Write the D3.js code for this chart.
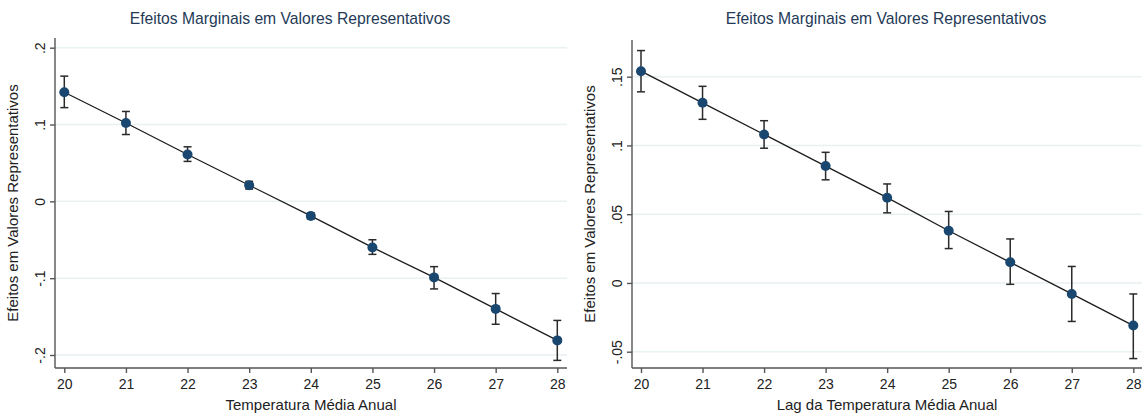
<!DOCTYPE html>
<html>
<head>
<meta charset="utf-8">
<title>Efeitos Marginais</title>
<style>
  body { margin: 0; background: #fff; }
  svg { display: block; font-family: "Liberation Sans", Arial, sans-serif; }
  .grid line { stroke: #e9f1f2; stroke-width: 1.5; }
  .axis path, .axis line { stroke: #555; stroke-width: 1.4; }
  .axis text { fill: #222; font-size: 14px; }
  .title { fill: #243a57; font-size: 15.7px; }
  .label { fill: #222; font-size: 15px; }
</style>
</head>
<body>
<svg width="1142" height="417"></svg>
<script src="https://cdnjs.cloudflare.com/ajax/libs/d3/7.8.5/d3.min.js"></script>
<script>
const titleText = 'Efeitos Marginais em Valores Representativos';
const yTitle = 'Efeitos em Valores Representativos';

const temps = [20, 21, 22, 23, 24, 25, 26, 27, 28];

// left panel: Temperatura Média Anual
const est1 = [0.142, 0.102, 0.061, 0.021, -0.019, -0.060, -0.099, -0.140, -0.181];
const lo1  = [0.122, 0.087, 0.052, 0.016, -0.023, -0.069, -0.114, -0.160, -0.207];
const hi1  = [0.163, 0.117, 0.071, 0.026, -0.015, -0.050, -0.085, -0.120, -0.155];
const yTicks1 = [-0.2, -0.1, 0, 0.1, 0.2];
const yLabels1 = ['-.2', '-.1', '0', '.1', '.2'];

// right panel: Lag da Temperatura Média Anual
const est2 = [0.154, 0.131, 0.108, 0.085, 0.062, 0.038, 0.015, -0.008, -0.031];
const lo2  = [0.139, 0.119, 0.098, 0.075, 0.051, 0.025, -0.001, -0.028, -0.055];
const hi2  = [0.169, 0.143, 0.118, 0.095, 0.072, 0.052, 0.032, 0.012, -0.008];
const yTicks2 = [-0.05, 0, 0.05, 0.1, 0.15];
const yLabels2 = ['-.05', '0', '.05', '.1', '.15'];

const svg = d3.select('svg');

function panel(opt) {
  const g = svg.append('g');
  const x = d3.scaleLinear().domain([20, 28]).range(opt.xr);
  const y = d3.scaleLinear().domain(opt.yd).range(opt.yr);
  const bottom = 368, top = opt.top;

  // grid
  g.append('g').attr('class', 'grid')
    .selectAll('line').data(opt.yTicks).join('line')
    .attr('x1', opt.left).attr('x2', opt.right)
    .attr('y1', d => y(d)).attr('y2', d => y(d));

  // y axis
  const ya = g.append('g').attr('class', 'axis')
    .attr('transform', `translate(${opt.left},0)`)
    .call(d3.axisLeft(y).tickValues(opt.yTicks).tickSize(5)
      .tickFormat((d, i) => opt.yLabels[i]));
  ya.select('.domain').attr('d', `M0,${top}V${bottom}`);
  ya.selectAll('text')
    .attr('transform', 'translate(-15,0) rotate(-90)')
    .attr('x', 0).attr('y', 0).attr('dy', '0.35em')
    .attr('text-anchor', 'middle');

  // x axis
  const xa = g.append('g').attr('class', 'axis')
    .attr('transform', `translate(0,${bottom})`)
    .call(d3.axisBottom(x).tickValues(temps).tickSize(5).tickFormat(d3.format('d')));
  xa.select('.domain').attr('d', `M${opt.left},0H${opt.right}`);
  xa.selectAll('text').attr('y', 9).attr('dy', '0.85em');

  // titles
  g.append('text').attr('class', 'title')
    .attr('x', opt.titleX).attr('y', 24).attr('text-anchor', 'middle')
    .text(titleText);
  g.append('text').attr('class', 'label')
    .attr('x', (opt.left + opt.right) / 2).attr('y', 410).attr('text-anchor', 'middle')
    .text(opt.xTitle);
  g.append('text').attr('class', 'label')
    .attr('transform', `translate(${opt.left - 37},${(top + bottom) / 2}) rotate(-90)`)
    .attr('text-anchor', 'middle')
    .text(yTitle);

  const rows = temps.map((t, i) => ({ t, v: opt.est[i], lo: opt.lo[i], hi: opt.hi[i] }));

  // connecting line
  g.append('path').datum(rows)
    .attr('fill', 'none').attr('stroke', '#1c1c1c').attr('stroke-width', 1.3)
    .attr('d', d3.line().x(d => x(d.t)).y(d => y(d.v)));

  // error bars
  const eb = g.append('g').attr('stroke', '#2a2a2a').attr('stroke-width', 1.5);
  eb.selectAll('.ci').data(rows).join('line')
    .attr('x1', d => x(d.t)).attr('x2', d => x(d.t))
    .attr('y1', d => y(d.lo)).attr('y2', d => y(d.hi));
  eb.selectAll('.cap').data(rows.flatMap(d => [d.lo, d.hi].map(v => ({ t: d.t, v })))).join('line')
    .attr('x1', d => x(d.t) - 4).attr('x2', d => x(d.t) + 4)
    .attr('y1', d => y(d.v)).attr('y2', d => y(d.v));

  // markers
  g.append('g').selectAll('circle').data(rows).join('circle')
    .attr('cx', d => x(d.t)).attr('cy', d => y(d.v)).attr('r', 5)
    .attr('fill', '#1a476f');
}

panel({
  left: 55, right: 567, top: 38, xr: [64.3, 557.3],
  yd: [-0.2, 0.2], yr: [355, 47.7],
  yTicks: yTicks1, yLabels: yLabels1,
  est: est1, lo: lo1, hi: hi1,
  titleX: 290, xTitle: 'Temperatura Média Anual'
});

panel({
  left: 632, right: 1142, top: 40, xr: [641, 1133.3],
  yd: [-0.05, 0.15], yr: [351.7, 76.7],
  yTicks: yTicks2, yLabels: yLabels2,
  est: est2, lo: lo2, hi: hi2,
  titleX: 886, xTitle: 'Lag da Temperatura Média Anual'
});
</script>
</body>
</html>
